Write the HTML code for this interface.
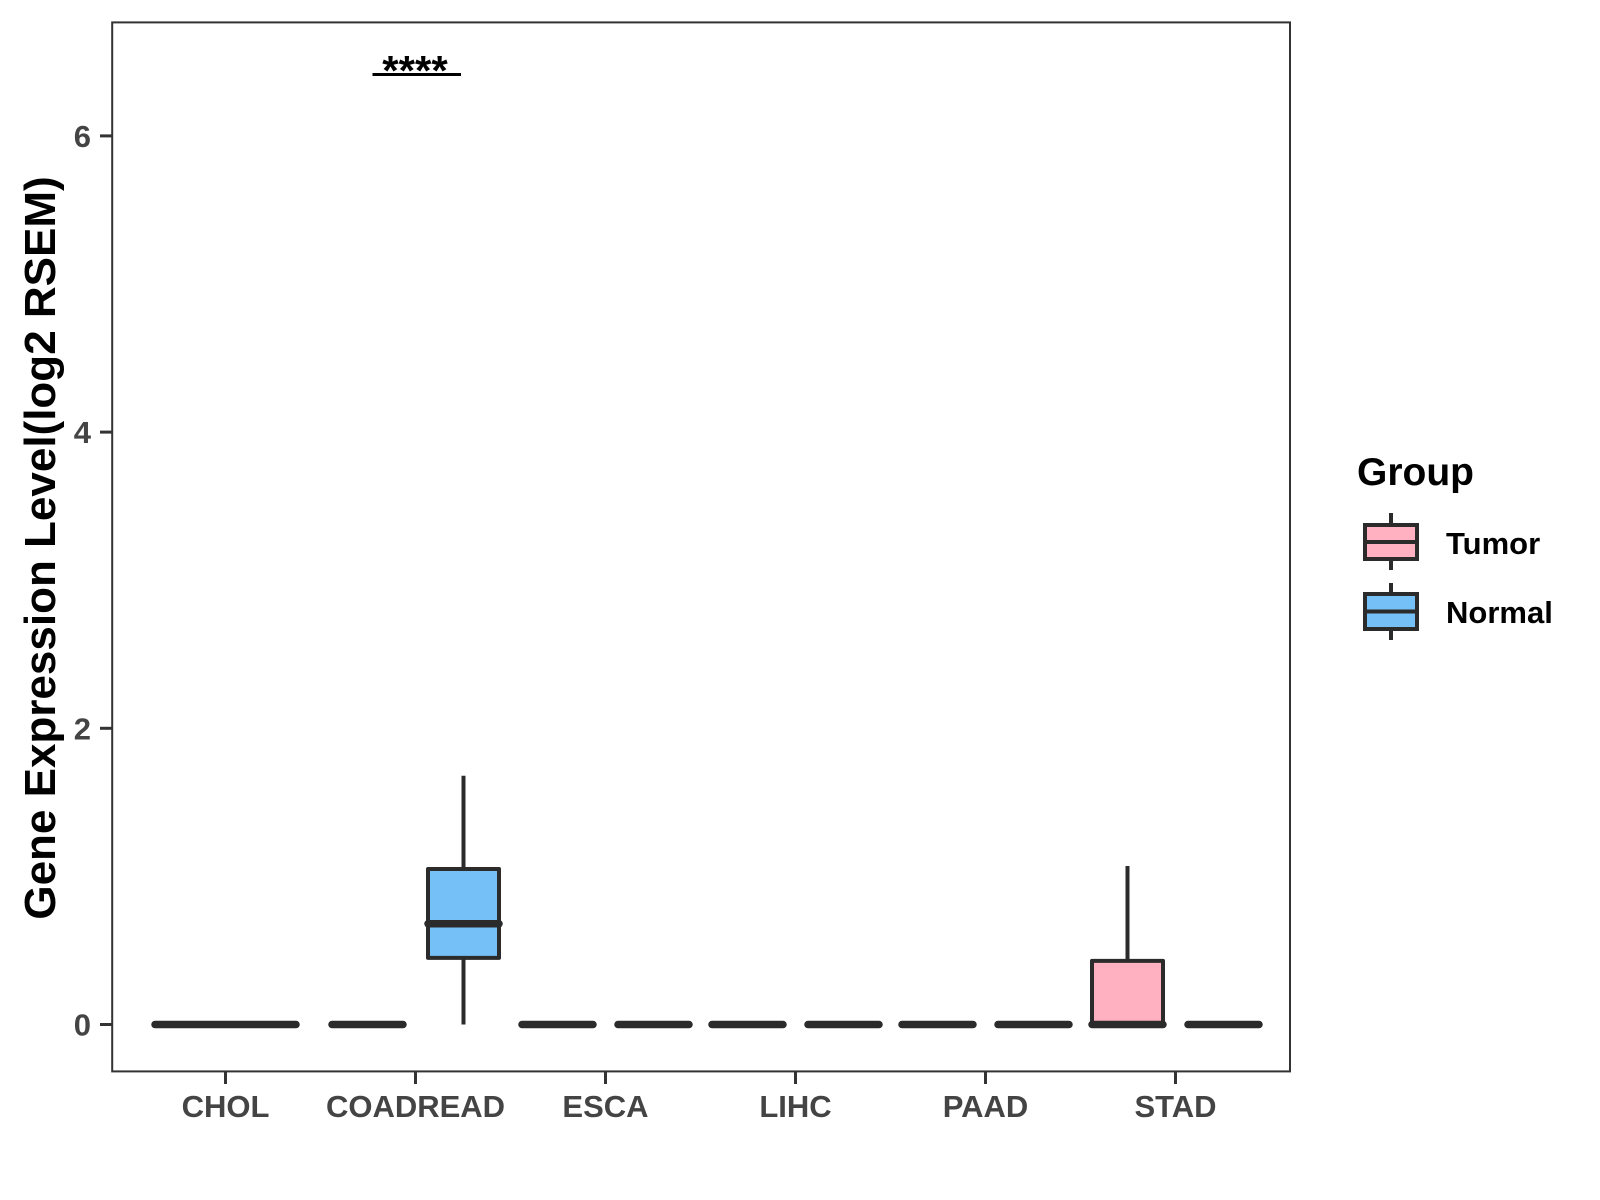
<!DOCTYPE html>
<html><head><meta charset="utf-8"><style>body{margin:0;background:#fff}svg{display:block}text{font-family:"Liberation Sans",Arial,sans-serif;font-weight:bold}</style></head>
<body>
<svg id="chart" width="1600" height="1200" viewBox="0 0 1600 1200">
<rect x="112.2" y="22.4" width="1177.8" height="1049" fill="#fff" stroke="#333" stroke-width="2"/>
<g id="marks"></g>
<g id="axes"></g>
<text x="0" y="0" transform="translate(55,548) rotate(-90)" text-anchor="middle" font-size="44" fill="#000">Gene Expression Level(log2 RSEM)</text>
<g>
<line x1="372.5" y1="74.5" x2="461" y2="74.5" stroke="#000" stroke-width="3"/>
<text x="415" y="85" text-anchor="middle" font-size="42" fill="#000">****</text>
</g>
<g>
<text x="1357" y="485" font-size="39" fill="#000">Group</text>
<g>
<line x1="1391" y1="513" x2="1391" y2="570" stroke="#2b2b2b" stroke-width="4"/>
<rect x="1365" y="525" width="52" height="34" fill="#FFB1C1" stroke="#2b2b2b" stroke-width="4"/>
<line x1="1365" y1="542" x2="1417" y2="542" stroke="#2b2b2b" stroke-width="4"/>
<text x="1446" y="554" font-size="31" fill="#000">Tumor</text></g>
<g>
<line x1="1391" y1="583" x2="1391" y2="640" stroke="#2b2b2b" stroke-width="4"/>
<rect x="1365" y="594" width="52" height="35" fill="#75C1F7" stroke="#2b2b2b" stroke-width="4"/>
<line x1="1365" y1="611.5" x2="1417" y2="611.5" stroke="#2b2b2b" stroke-width="4"/>
<text x="1446" y="623" font-size="31" fill="#000">Normal</text></g>
</g>
</svg>
<script>
const categories=["CHOL","COADREAD","ESCA","LIHC","PAAD","STAD"];
// [lowerWhisker,q1,median,q3,upperWhisker]; null = group absent
const tumorStats=[[0,0,0,0,0],[0,0,0,0,0],[0,0,0,0,0],[0,0,0,0,0],[0,0,0,0,0],[0,0,0,0.43,1.07]];
const normalStats=[null,[0,0.45,0.68,1.05,1.68],[0,0,0,0,0],[0,0,0,0,0],[0,0,0,0,0],[0,0,0,0,0]];
const yTicks=[0,2,4,6];
const NS="http://www.w3.org/2000/svg";
const x=i=>225.5+i*190;
const y=v=>1024.5-148.1*v;
function mk(t,a,p){const e=document.createElementNS(NS,t);for(const k in a)e.setAttribute(k,a[k]);p.appendChild(e);return e;}
const marks=document.getElementById('marks'),axes=document.getElementById('axes');
function box(cx,w,s,fill,name){
 const g=mk('g',{},marks);
 
 
 const c='#2b2b2b';
 mk('line',{x1:cx,x2:cx,y1:y(s[3]),y2:y(s[4]),stroke:c,'stroke-width':4},g);
 mk('line',{x1:cx,x2:cx,y1:y(s[1]),y2:y(s[0]),stroke:c,'stroke-width':4},g);
 const h=y(s[1])-y(s[3]);
 mk('rect',{x:cx-w/2,y:y(s[3]),width:w,height:Math.max(h,0),fill:fill,stroke:c,'stroke-width':4,'stroke-linejoin':'round'},g);
 mk('line',{x1:cx-w/2,x2:cx+w/2,y1:y(s[2]),y2:y(s[2]),stroke:c,'stroke-width':7.5,'stroke-linecap':'round'},g);
}
categories.forEach((cat,i)=>{
 const hasN=normalStats[i]!==null;
 if(!hasN){box(x(i),141,tumorStats[i],'#FFB1C1','box-tumor-'+cat.toLowerCase());}
 else{
  box(x(i)-48,71,tumorStats[i],'#FFB1C1','box-tumor-'+cat.toLowerCase());
  box(x(i)+48,71,normalStats[i],'#75C1F7','box-normal-'+cat.toLowerCase());
 }
 const t=mk('line',{x1:x(i),x2:x(i),y1:1072,y2:1084,stroke:'#333','stroke-width':3},axes);
 
 
 const l=mk('text',{x:x(i),y:1117,'text-anchor':'middle','font-size':31,fill:'#444'},axes);
 l.textContent=cat;
 
 
});
yTicks.forEach(v=>{
 const t=mk('line',{x1:100,x2:112.2,y1:y(v),y2:y(v),stroke:'#333','stroke-width':3},axes);
 
 
 const l=mk('text',{x:91,y:y(v)+11,'text-anchor':'end','font-size':31,fill:'#444'},axes);
 l.textContent=v;
 
 
});
</script>
</body></html>
